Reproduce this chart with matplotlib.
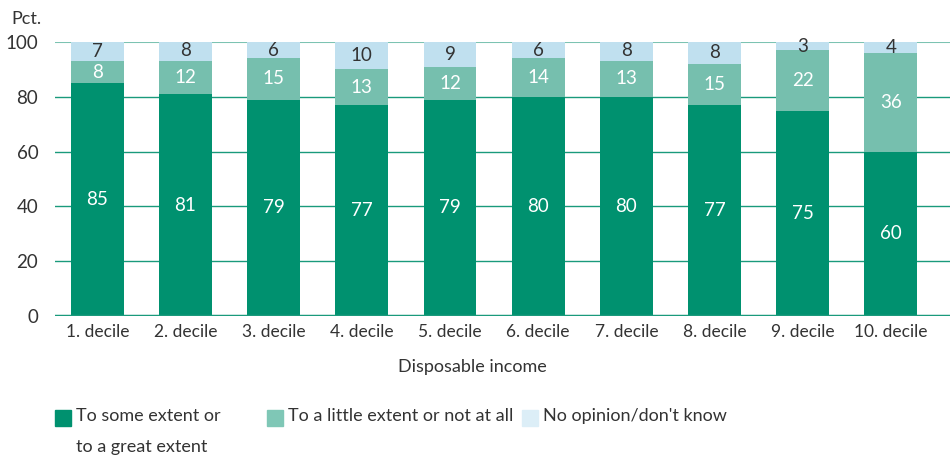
import matplotlib.pyplot as plt
import numpy as np

plt.rcParams['font.family'] = ['Lato', 'DejaVu Sans']

# --- Data ---
deciles = ['1. decile', '2. decile', '3. decile', '4. decile', '5. decile',
           '6. decile', '7. decile', '8. decile', '9. decile', '10. decile']
some_or_great = [85, 81, 79, 77, 79, 80, 80, 77, 75, 60]
little_or_none = [8, 12, 15, 13, 12, 14, 13, 15, 22, 36]
no_opinion = [7, 8, 6, 10, 9, 6, 8, 8, 3, 4]
series_names = ['To some extent or\nto a great extent',
                'To a little extent or not at all',
                "No opinion/don't know"]

# --- Style ---
DARK = '#00916F'
MID = '#76BFAE'
LIGHT = '#C0E0EF'
TEXT = '#333333'

fig = plt.figure(figsize=(9.5, 4.55), dpi=100)
ax = fig.add_axes([55 / 950, 139 / 455, 895 / 950, 274 / 455])

x = np.arange(len(deciles))
w = 0.6
bottoms = np.zeros(len(deciles))
series = [some_or_great, little_or_none, no_opinion]
colors = [DARK, MID, LIGHT]
label_colors = ['white', 'white', TEXT]

for vals, col, lcol in zip(series, colors, label_colors):
    vals = np.array(vals)
    ax.bar(x, vals, w, bottom=bottoms, color=col, zorder=3)
    for xi, b, v in zip(x, bottoms, vals):
        ax.text(xi, b + v / 2, str(v), ha='center', va='center',
                color=lcol, fontsize=13.5, zorder=4)
    bottoms = bottoms + vals

# gridlines
for yv in [20, 40, 60, 80]:
    ax.axhline(yv, color='#1A9A7C', lw=1.0, zorder=1)
ax.axhline(100, color='#7CC3B2', lw=1.5, zorder=1)
ax.axhline(0, color='#1A9A7C', lw=2.5, zorder=5)

ax.set_xlim(-0.48, 9.67)
ax.set_ylim(0, 100)
ax.set_yticks([0, 20, 40, 60, 80, 100])
ax.set_xticks(x)
ax.set_xticklabels(deciles)
ax.tick_params(axis='y', length=0, labelsize=13.5, colors=TEXT, pad=12)
ax.tick_params(axis='x', length=0, labelsize=12.5, colors=TEXT, pad=6)
for s in ax.spines.values():
    s.set_visible(False)

fig.text(11 / 950, 1 - 19 / 455, 'Pct.', ha='left', va='center',
         fontsize=13, color=TEXT)
fig.text(472 / 950, 1 - 367 / 455, 'Disposable income', ha='center',
         va='center', fontsize=13, color=TEXT)

# legend drawn by hand as figure patches + text
legend_x = [55, 267, 522]
legend_colors = [DARK, '#7FC7B6', '#DCEEF7']
for lx, col, name in zip(legend_x, legend_colors, series_names):
    fig.patches.append(plt.Rectangle((lx / 950, 1 - 426 / 455), 16 / 950, 16 / 455,
                                     transform=fig.transFigure, color=col))
    fig.text((lx + 21) / 950, 1 - 408 / 455, name,
             ha='left', va='top', fontsize=13, color=TEXT, linespacing=2.15)

fig.savefig('out.png', dpi=100)
